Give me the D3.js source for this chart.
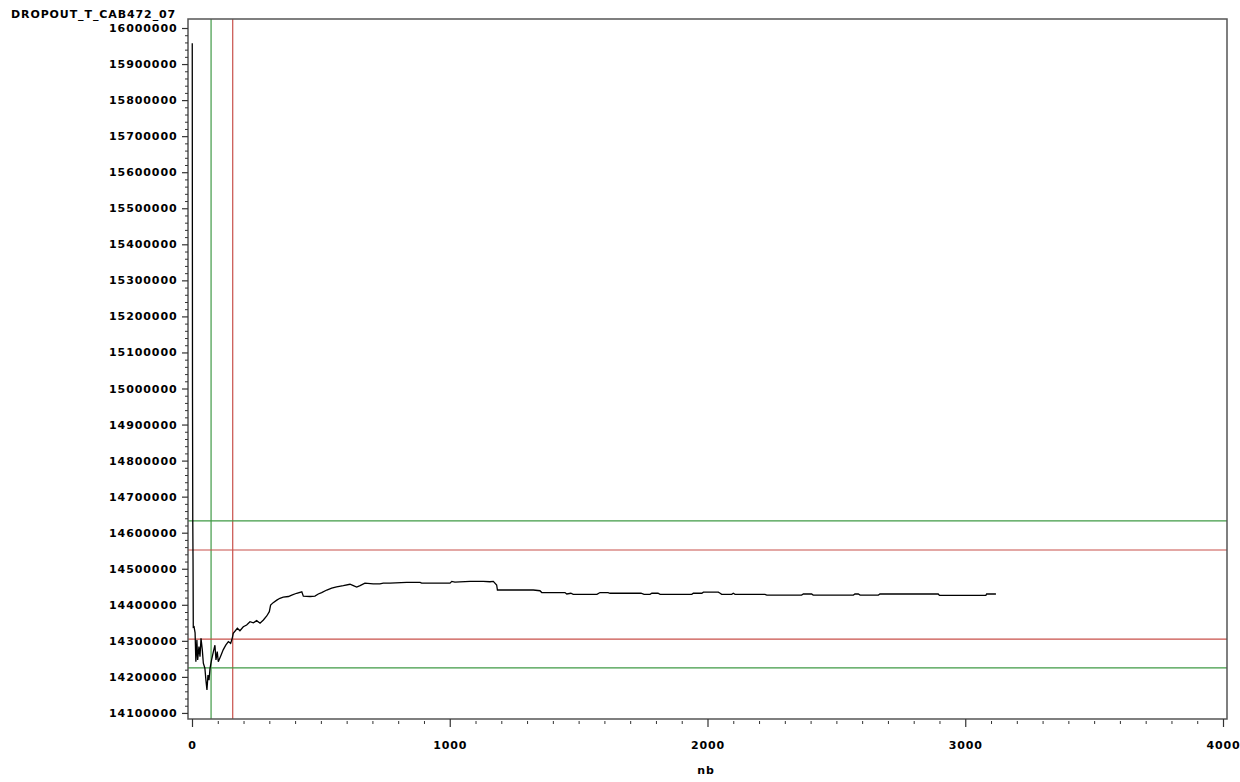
<!DOCTYPE html>
<html>
<head>
<meta charset="utf-8">
<script src="https://cdn.jsdelivr.net/npm/d3@7"></script>
<style>
  body { margin: 0; background: #fff; }
  text { font-family: "DejaVu Sans", sans-serif; font-weight: bold; font-size: 11px; letter-spacing: 0.9px; fill: #000; }
</style>
</head>
<body>
<svg id="chart" width="1240" height="782"></svg>
<script>
// running value by nb
const nb = [1, 2, 3, 4, 5, 8, 12, 15, 19, 22, 27, 31, 35, 40, 44, 50, 54, 58, 62, 66, 70, 76, 83, 89, 93, 98, 102, 113, 121, 131, 141, 150, 156,
  160, 176, 186, 199, 212, 225, 238, 251, 264, 277, 290, 300, 305, 315, 329, 341, 354, 374, 387, 406, 426, 432, 458, 477, 490, 503, 523, 542, 561, 587, 613,
  626, 639, 652, 671, 703, 729, 742, 768, 833, 885, 891, 1001, 1008, 1020, 1079, 1130, 1156, 1169, 1182, 1185, 1324, 1350, 1357, 1447, 1454, 1470, 1479,
  1571, 1583, 1614, 1622, 1742, 1754, 1777, 1784, 1808, 1816, 1939, 1945, 1978, 1984, 2042, 2049, 2055, 2094, 2100, 2107, 2223, 2230, 2365, 2372, 2404,
  2410, 2566, 2572, 2585, 2592, 2663, 2669, 2895, 2900, 3080, 3083, 3119];
const value = [15958000, 14973000, 14635000, 14524000, 14338000, 14339000, 14322000, 14242000, 14302000, 14247000, 14284000, 14256000, 14307000, 14275000,
  14238000, 14224000, 14191000, 14164000, 14205000, 14191000, 14224000, 14247000, 14270000, 14288000, 14247000, 14270000, 14242000, 14261000, 14275000,
  14288000, 14298000, 14293000, 14307000,
  14321000, 14335000, 14328000, 14339000, 14344000, 14353000, 14350000, 14356000, 14349000, 14358000, 14369000, 14381000, 14399000, 14406000, 14413000,
  14418000, 14421000, 14423000, 14427000, 14432000, 14436000, 14424000, 14423000, 14424000, 14430000, 14434000, 14441000, 14446000, 14450000, 14453000,
  14457000, 14453000, 14449000, 14453000, 14460000, 14458000, 14458000, 14460000, 14460000, 14462000, 14462000, 14460000, 14460000, 14465000, 14463000,
  14465000, 14465000, 14464000, 14465000, 14455000, 14441000, 14441000, 14439000, 14434000, 14434000, 14430000, 14432000, 14429000,
  14429000, 14434000, 14434000, 14432000, 14432000, 14429000, 14429000, 14432000, 14432000, 14429000, 14429000, 14432000, 14432000, 14435000, 14435000,
  14432000, 14429000, 14429000, 14432000, 14429000, 14429000, 14427000, 14427000, 14430000, 14430000,
  14427000, 14427000, 14430000, 14430000, 14427000, 14427000, 14430000, 14430000, 14426000, 14426000, 14430000, 14430000];

// reference lines
const vLines = [{ at: 74, color: "#3f9a45" }, { at: 158, color: "#c8504a" }];
const hLines = [{ at: 14633000, color: "#3f9a45" }, { at: 14552000, color: "#c8504a" },
  { at: 14305000, color: "#c8504a" }, { at: 14225000, color: "#3f9a45" }];

const yTicks = d3.range(14100000, 16000001, 100000);
const xTicks = [0, 1000, 2000, 3000, 4000];
const title = "DROPOUT_T_CAB472_07";
const xTitle = "nb";

const svg = d3.select("#chart");
const pL = 188, pR = 1227, pT = 19, pB = 719;

const x = d3.scaleLinear().domain([-15.5, 4015.5]).range([pL, pR]);
const y = d3.scaleLinear().domain([14083200, 16025000]).range([pB, pT]);

// reference lines
svg.selectAll(".vref").data(vLines).enter().append("line")
  .attr("x1", d => x(d.at)).attr("x2", d => x(d.at))
  .attr("y1", pT).attr("y2", pB)
  .attr("stroke", d => d.color).attr("stroke-width", 1.2);

svg.selectAll(".href").data(hLines).enter().append("line")
  .attr("x1", pL).attr("x2", pR)
  .attr("y1", d => y(d.at)).attr("y2", d => y(d.at))
  .attr("stroke", d => d.color).attr("stroke-width", 1.2);

// data line
const pts = nb.map((n, i) => [n, value[i]]);
svg.append("path")
  .datum(pts)
  .attr("fill", "none")
  .attr("stroke", "#000")
  .attr("stroke-width", 1.3)
  .attr("d", d3.line().x(d => x(d[0])).y(d => y(d[1])));

// frame
svg.append("rect")
  .attr("x", pL).attr("y", pT)
  .attr("width", pR - pL).attr("height", pB - pT)
  .attr("fill", "none").attr("stroke", "#555").attr("stroke-width", 1.5);

// y axis
const yMinor = d3.range(14100000, 16000001, 20000).filter(v => v % 100000 !== 0);
const yAxis = svg.append("g").attr("transform", `translate(${pL},0)`)
  .call(d3.axisLeft(y).tickValues(yTicks).tickSize(6).tickPadding(5).tickFormat(d3.format("d")));
yAxis.select(".domain").remove();
yAxis.selectAll("line").attr("stroke", "#333").attr("stroke-width", 1.2);
yAxis.selectAll("text").attr("dx", "0.5px");
svg.append("g").attr("transform", `translate(${pL},0)`)
  .call(d3.axisLeft(y).tickValues(yMinor).tickSize(3).tickFormat(""))
  .call(g => g.select(".domain").remove())
  .selectAll("line").attr("stroke", "#333");

// x axis
const xMinor = d3.range(100, 4000, 100).filter(v => v % 1000 !== 0);
const xAxis = svg.append("g").attr("transform", `translate(0,${pB})`)
  .call(d3.axisBottom(x).tickValues(xTicks).tickSize(8).tickPadding(14).tickFormat(d3.format("d")));
xAxis.select(".domain").remove();
xAxis.selectAll("line").attr("stroke", "#333").attr("stroke-width", 1.2);
svg.append("g").attr("transform", `translate(0,${pB + 2})`)
  .call(d3.axisBottom(x).tickValues(xMinor).tickSize(3).tickFormat(""))
  .call(g => g.select(".domain").remove())
  .selectAll("line").attr("stroke", "#333");

svg.selectAll(".tick text").style("font-size", "11px").style("font-family", "DejaVu Sans");

// titles
svg.append("text").attr("x", 11).attr("y", 18).text(title);
svg.append("text").attr("x", 706).attr("y", 774).attr("text-anchor", "middle").text(xTitle);
</script>
</body>
</html>
